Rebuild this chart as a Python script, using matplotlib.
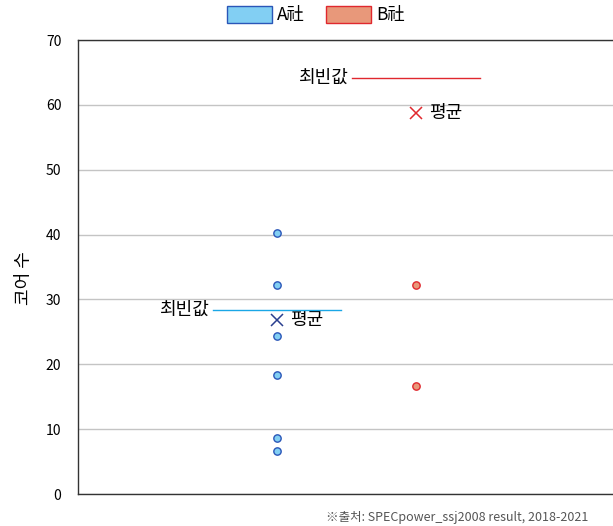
import numpy as np
import matplotlib.pyplot as plt
from matplotlib.patches import Patch

plt.rcParams['font.family'] = ['Noto Sans CJK KR', 'DejaVu Sans']

# data
companies = ["A社", "B社"]
a_cores = [40.2, 32.2, 24.3, 18.4, 8.6, 6.7]
b_cores = [32.2, 16.6]
means = [26.8, 58.7]
modes = [28.4, 64.2]

fill_colors = ["#82cff3", "#e8987a"]
edge_colors = ["#2a56b8", "#e0282e"]
mean_colors = ["#2a3f8f", "#e0282e"]
mode_colors = ["#1aa7e6", "#e0282e"]

fig = plt.figure(figsize=(6.13, 5.26), dpi=100)
ax = fig.add_axes([78 / 613, 1 - 494 / 526, 545 / 613, 454 / 526])

for i, vals in enumerate([a_cores, b_cores]):
    ax.scatter([i] * len(vals), vals, s=28, color=fill_colors[i],
               edgecolor=edge_colors[i], linewidth=1.0, zorder=3)
    ax.plot([i], [means[i]], marker="x", markersize=9, mew=1.1,
            color=mean_colors[i], zorder=3)
    ax.text(i + 0.09, means[i], "평균", fontsize=13, va="center", ha="left")
    ax.plot([i - 0.46, i + 0.46], [modes[i], modes[i]], color=mode_colors[i],
            linewidth=1.0, zorder=3)
    ax.text(i - 0.49, modes[i], "최빈값", fontsize=13, va="center", ha="right")

ax.set_xlim(-1.432, 2.488)
ax.set_ylim(0, 70)
ax.set_yticks(np.arange(0, 71, 10))
ax.set_xticks([])
ax.tick_params(axis="y", length=0, labelsize=10, pad=12)
ax.yaxis.grid(True, color="#c4c4c4", linewidth=1.0)
ax.set_axisbelow(True)
for s in ["left", "top", "bottom"]:
    ax.spines[s].set_color("#333333")
    ax.spines[s].set_linewidth(1.0)
ax.spines["right"].set_visible(False)
ax.set_ylabel("코어 수", fontsize=13)
ax.yaxis.set_label_coords(-0.083, 0.476)

handles = [Patch(facecolor=fill_colors[i], edgecolor=edge_colors[i], label=companies[i])
           for i in range(2)]
fig.legend(handles=handles, loc="center", bbox_to_anchor=(316 / 613, 1 - 15 / 526),
           ncol=2, frameon=False, fontsize=12.5, handlelength=2.6, handleheight=1.1,
           handletextpad=0.3, columnspacing=1.2)

fig.text(588 / 613, 1 - 517 / 526, "※출처: SPECpower_ssj2008 result, 2018-2021",
         fontsize=9, color="#555555", ha="right", va="center")

fig.savefig("out.png", dpi=100)
